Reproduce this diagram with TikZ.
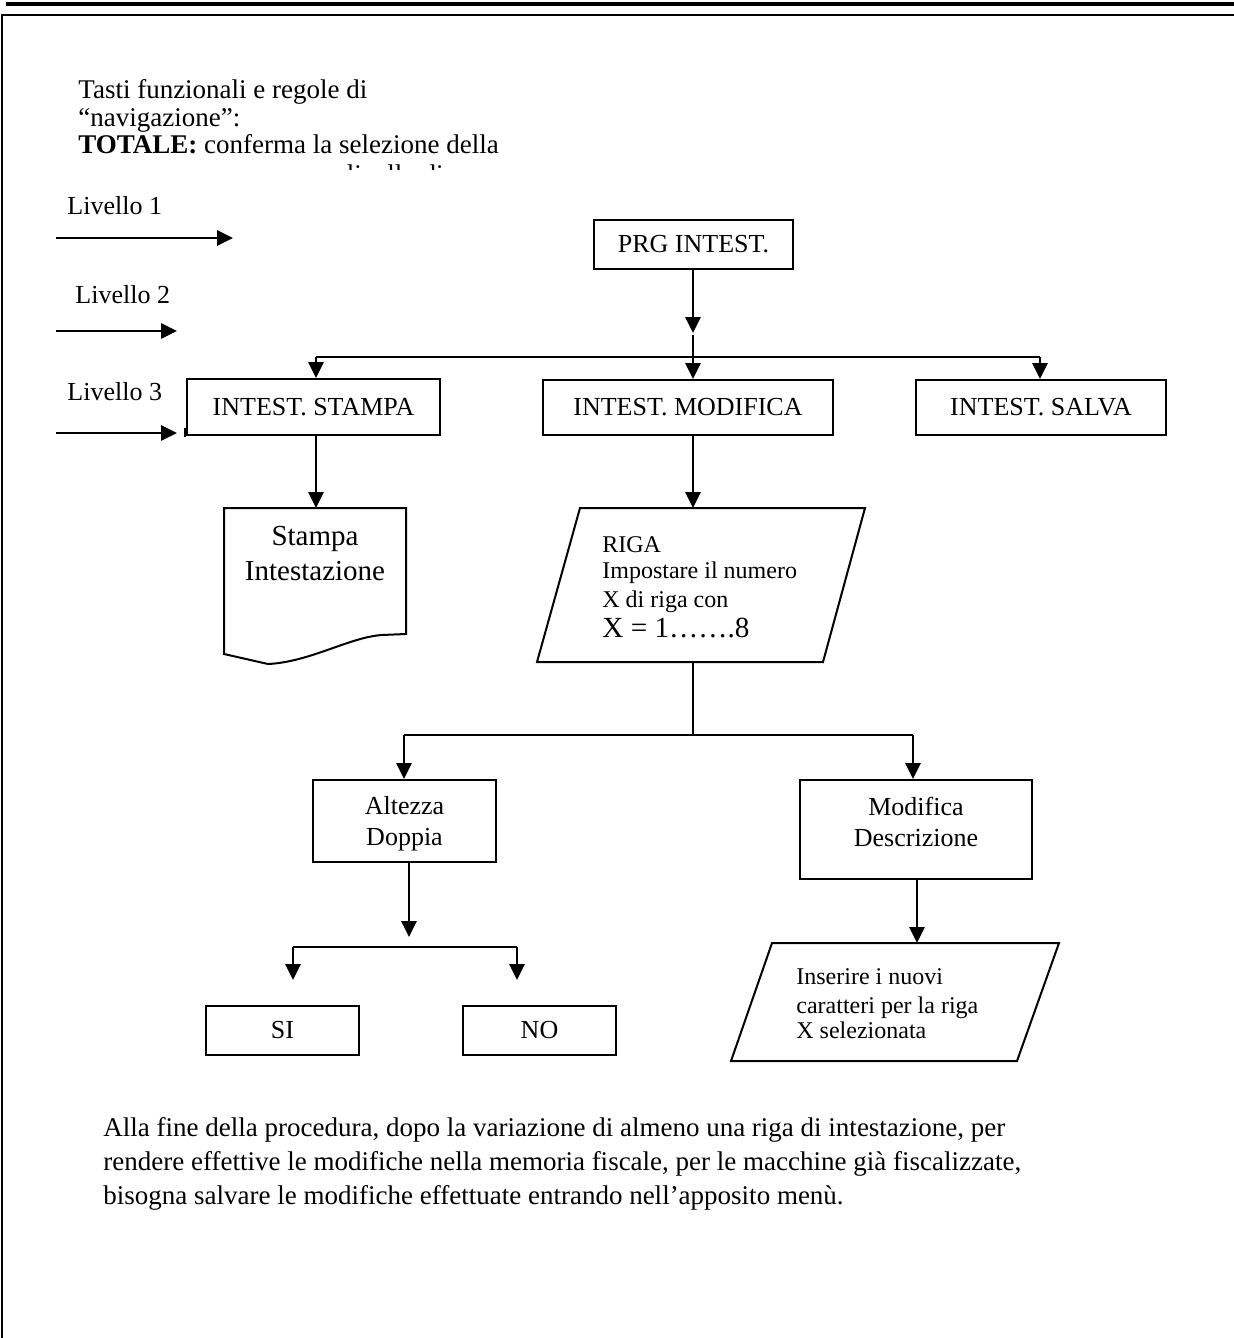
\documentclass[tikz,border=0pt]{standalone}
\usepackage{fontspec}
\setmainfont{Liberation Serif}
\usetikzlibrary{arrows.meta}
\begin{document}
\begin{tikzpicture}[x=0.5pt,y=-0.5pt,
  box/.style={draw,line width=1pt,inner sep=0pt,align=center,font=\fontsize{13}{15.5}\selectfont},
  arr/.style={line width=1.35pt,-{Triangle[length=8pt,width=7.5pt]}},
  conn/.style={line width=1.35pt},
  shapeline/.style={line width=1pt,line join=miter},
  lbl/.style={inner sep=0pt,anchor=base west,font=\fontsize{13}{15.5}\selectfont},
  body/.style={inner sep=0pt,anchor=base west,font=\fontsize{13.5}{16}\selectfont},
  para/.style={inner sep=0pt,anchor=base west,font=\fontsize{13.5}{16}\selectfont},
  small/.style={inner sep=0pt,anchor=base west,font=\fontsize{12}{14}\selectfont},
  mid/.style={inner sep=0pt,anchor=base,font=\fontsize{13}{15.5}\selectfont}]
\useasboundingbox (0,0) rectangle (1234,1338);
% page frame
\draw[line width=2pt] (6,4) -- (1234,4);
\draw[line width=1.3pt] (2,1338) -- (2,15) -- (1234,15);

% header text (clipped text box)
\begin{scope}
  \clip (0,20) rectangle (1234,169);
  \node[body] (h1) at (78,99) {Tasti funzionali e regole di};
  \node[body] (h2) at (78,126.5) {“navigazione”:};
  \node[body] (h3) at (78,154) {\textbf{TOTALE:} conferma la selezione della};
  \node[body] (h4) at (78,184) {voce e passa a un nuovo livello di};
\end{scope}

% level legend
\node[lbl] (l1) at (67,214) {Livello 1};
\node[lbl] (l2) at (75,303) {Livello 2};
\node[lbl] (l3) at (67,400) {Livello 3};
\coordinate (a1s) at (56,238); \coordinate (a1e) at (233,238);
\coordinate (a2s) at (56,331); \coordinate (a2e) at (177,331);
\coordinate (a3s) at (56,433); \coordinate (a3e) at (177,433);
\draw[arr] (a1s) -- (a1e);
\draw[arr] (a2s) -- (a2e);
\draw[arr] (a3s) -- (a3e);

% level 1
\node[box,minimum width=99.5pt,minimum height=24.5pt] (prg) at (693.5,244.5) {PRG INTEST.};
% level 3 boxes
\node[box,minimum width=126.5pt,minimum height=28pt] (stampa) at (313.5,407) {INTEST. STAMPA};
\node[box,minimum width=145pt,minimum height=27.5pt] (modifica) at (688,407.5) {INTEST. MODIFICA};
\node[box,minimum width=125pt,minimum height=27.5pt] (salva) at (1041,407.5) {INTEST. SALVA};
\draw[line width=1pt] (stampa.south west) -- ++(-1,0) -- ++(0,-8);

\coordinate (prgtip) at (693,333);
\coordinate (busM) at (693,335);
\coordinate (busL) at (316,357);
\coordinate (busR) at (1040,357);
\draw[arr] (prg.south -| prgtip) -- (prgtip);
\draw[conn] (busL) -- (busR);
\draw[arr] (busM) -- (busM |- modifica.north);
\draw[arr] (busL) -- (busL |- stampa.north);
\draw[arr] (busR) -- (busR |- salva.north);

% document shape
\coordinate (docN) at (316,508);
\draw[shapeline] (224,508) -- (406,508) -- (406,634) -- (382,635)
  .. controls (350,637) and (310,662) .. (268,664) -- (224,654) -- cycle;
\node[inner sep=0pt,align=center,font=\fontsize{14.5}{17.5}\selectfont,anchor=base] (doc) at (315,580) {Stampa\\Intestazione};
\draw[arr] (stampa.south -| docN) -- (docN);

% RIGA parallelogram
\coordinate (rigaN) at (693,508);
\coordinate (rigaS) at (693,662);
\draw[shapeline] (580,508) -- (865,508) -- (823,662) -- (537,662) -- cycle;
\node[small] (r1) at (602,552) {RIGA};
\node[small] (r2) at (602,578) {Impostare il numero};
\node[small] (r3) at (602,607) {X di riga con};
\node[inner sep=0pt,anchor=base west,font=\fontsize{14.6}{17}\selectfont] (r4) at (602,637) {X = 1…….8};
\draw[arr] (modifica.south -| rigaN) -- (rigaN);

% second bus
\coordinate (bus2M) at (693,735);
\coordinate (bus2L) at (404,735);
\coordinate (bus2R) at (913,735);
\draw[conn] (rigaS) -- (bus2M);
\draw[conn] (bus2L) -- (bus2R);

\node[box,minimum width=91.5pt,minimum height=41pt] (alt) at (404.5,821) {};
\node[mid] (alt1) at (404.5,814) {Altezza};
\node[mid] (alt2) at (404.5,845) {Doppia};
\node[box,minimum width=116pt,minimum height=49.5pt] (mdesc) at (916,829.5) {};
\node[mid] (md1) at (916,815) {Modifica};
\node[mid] (md2) at (916,846) {Descrizione};
\draw[arr] (bus2L) -- (bus2L |- alt.north);
\draw[arr] (bus2R) -- (bus2R |- mdesc.north);

% altezza doppia branch
\coordinate (altT) at (409,937);
\coordinate (bus3L) at (293,947);
\coordinate (bus3R) at (517,947);
\coordinate (siT) at (293,980);
\coordinate (noT) at (517,980);
\draw[arr] (alt.south -| altT) -- (altT);
\draw[conn] (bus3L) -- (bus3R);
\draw[arr] (bus3L) -- (siT);
\draw[arr] (bus3R) -- (noT);
\node[box,minimum width=76.5pt,minimum height=24.5pt] (si) at (282.5,1030.5) {SI};
\node[box,minimum width=76.5pt,minimum height=24.5pt] (no) at (539.5,1030.5) {NO};

% inserire parallelogram
\coordinate (insN) at (917,943);
\draw[shapeline] (772,943) -- (1059,943) -- (1017,1061) -- (731,1061) -- cycle;
\node[small] (i1) at (796,984) {Inserire i nuovi};
\node[small] (i2) at (796,1013) {caratteri per la riga};
\node[small] (i3) at (796,1038) {X selezionata};
\draw[arr] (mdesc.south -| insN) -- (insN);

% bottom paragraph
\node[para] (p1) at (103,1136) {Alla fine della procedura, dopo la variazione di almeno una riga di intestazione, per};
\node[para] (p2) at (103,1170) {rendere effettive le modifiche nella memoria fiscale, per le macchine già fiscalizzate,};
\node[para] (p3) at (103,1204) {bisogna salvare le modifiche effettuate entrando nell’apposito menù.};
\end{tikzpicture}
\end{document}
